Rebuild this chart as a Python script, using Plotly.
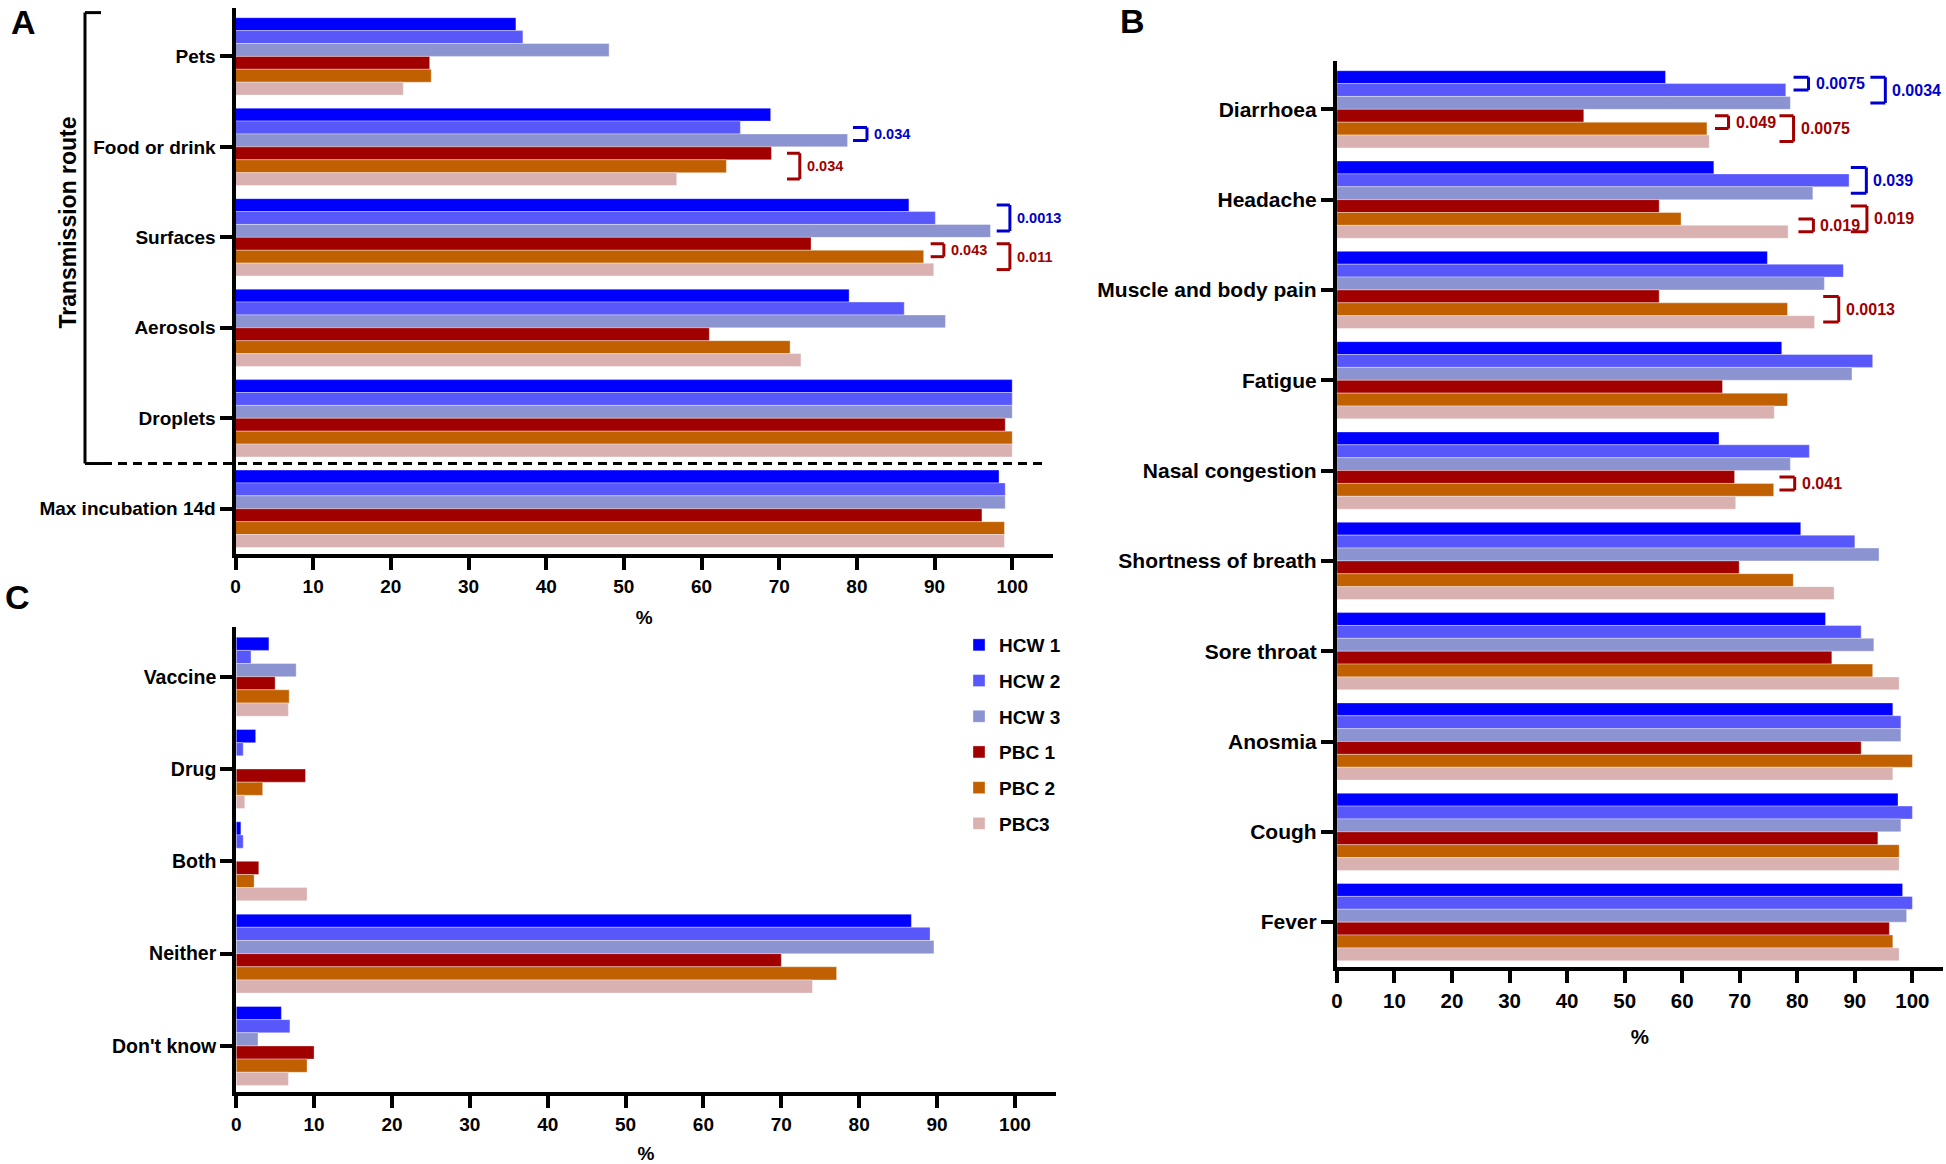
import plotly.graph_objects as go

# ---------------- data ----------------
series = ["HCW 1", "HCW 2", "HCW 3", "PBC 1", "PBC 2", "PBC3"]
colors = ["#0000FF", "#5858FA", "#8B93D1", "#A00000", "#C06000", "#D9B1B1"]

cat_a = ["Pets", "Food or drink", "Surfaces", "Aerosols", "Droplets", "Max incubation 14d"]
hcw1_a = [36.1, 68.9, 86.7, 79.0, 100, 98.3]
hcw2_a = [37.0, 65.0, 90.1, 86.1, 100, 99.1]
hcw3_a = [48.1, 78.8, 97.2, 91.4, 100, 99.1]
pbc1_a = [25.0, 69.0, 74.1, 61.0, 99.1, 96.1]
pbc2_a = [25.2, 63.2, 88.6, 71.4, 100, 99.0]
pbc3_a = [21.6, 56.8, 89.9, 72.8, 100, 99.0]

cat_b = ["Diarrhoea", "Headache", "Muscle and body pain", "Fatigue", "Nasal congestion",
         "Shortness of breath", "Sore throat", "Anosmia", "Cough", "Fever"]
hcw1_b = [57.1, 65.5, 74.8, 77.3, 66.4, 80.6, 84.9, 96.6, 97.5, 98.3]
hcw2_b = [78.0, 89.0, 88.0, 93.1, 82.1, 90.0, 91.1, 98.0, 100, 100]
hcw3_b = [78.8, 82.7, 84.7, 89.5, 78.8, 94.2, 93.3, 98.0, 98.0, 99.0]
pbc1_b = [42.9, 56.0, 56.0, 67.0, 69.1, 69.9, 86.0, 91.1, 94.0, 96.0]
pbc2_b = [64.3, 59.8, 78.3, 78.3, 75.9, 79.3, 93.1, 100, 97.7, 96.6]
pbc3_b = [64.7, 78.4, 83.0, 76.0, 69.3, 86.4, 97.7, 96.6, 97.7, 97.7]

cat_c = ["Vaccine", "Drug", "Both", "Neither", "Don't know"]
hcw1_c = [4.2, 2.5, 0.6, 86.7, 5.8]
hcw2_c = [1.9, 0.9, 0.9, 89.1, 6.9]
hcw3_c = [7.7, 0, 0, 89.6, 2.8]
pbc1_c = [5.0, 8.9, 2.9, 70.0, 10.0]
pbc2_c = [6.8, 3.4, 2.3, 77.1, 9.1]
pbc3_c = [6.7, 1.1, 9.1, 74.0, 6.7]

x_ticks = [0, 10, 20, 30, 40, 50, 60, 70, 80, 90, 100]

# p-value brackets: (panel, category index, first bar, last bar, x left, x right, label, colour)
BLUE = "#0000CC"
RED = "#A00000"
brackets = [
    ("a", 1, 1, 2, 79.5, 81.3, "0.034", BLUE),
    ("a", 1, 3, 5, 71.0, 72.65, "0.034", RED),
    ("a", 2, 0, 2, 98.0, 99.7, "0.0013", BLUE),
    ("a", 2, 3, 4, 89.5, 91.2, "0.043", RED),
    ("a", 2, 3, 5, 98.0, 99.7, "0.011", RED),
    ("b", 0, 0, 1, 79.35, 81.95, "0.0075", BLUE),
    ("b", 0, 0, 2, 92.7, 95.3, "0.0034", BLUE),
    ("b", 0, 3, 4, 65.7, 68.05, "0.049", RED),
    ("b", 0, 3, 5, 76.9, 79.35, "0.0075", RED),
    ("b", 1, 0, 2, 89.3, 92.0, "0.039", BLUE),
    ("b", 1, 4, 5, 80.2, 82.8, "0.019", RED),
    ("b", 1, 3, 5, 89.3, 92.1, "0.019", RED),
    ("b", 2, 3, 5, 84.5, 87.2, "0.0013", RED),
    ("b", 4, 3, 4, 76.9, 79.55, "0.041", RED),
]

# ---------------- figure ----------------
W, H = 1946, 1164
BARGAP = 0.145
FONT = "Liberation Sans, Arial, sans-serif"

def px_x(p):
    return p / W

def px_y(p):
    return 1 - p / H

fig = go.Figure()

panels = {
    "a": dict(cats=cat_a, vals=[hcw1_a, hcw2_a, hcw3_a, pbc1_a, pbc2_a, pbc3_a], xa="x", ya="y",
              font=19, xfont=19, pfont=14.5, standoff=16),
    "b": dict(cats=cat_b, vals=[hcw1_b, hcw2_b, hcw3_b, pbc1_b, pbc2_b, pbc3_b], xa="x2", ya="y2",
              font=21, xfont=20.5, pfont=16, standoff=20),
    "c": dict(cats=cat_c, vals=[hcw1_c, hcw2_c, hcw3_c, pbc1_c, pbc2_c, pbc3_c], xa="x3", ya="y3",
              font=19.5, xfont=19, pfont=15, standoff=14),
}

for key, p in panels.items():
    for i, name in enumerate(series):
        fig.add_trace(go.Bar(
            x=p["vals"][i], y=p["cats"], orientation="h", name=name,
            marker=dict(color=colors[i], line=dict(color="rgba(255,255,255,0.35)", width=1)),
            xaxis=p["xa"], yaxis=p["ya"],
            legendgroup=name, showlegend=(key == "c"),
        ))

def bold(size):
    return dict(family=FONT, size=size, color="black", weight="bold")

axis_common = dict(
    showline=True, linewidth=4, linecolor="black", mirror=False,
    ticks="outside", ticklen=12, tickwidth=4, tickcolor="black",
    showgrid=False, zeroline=False, automargin=False,
)

def xaxis(dom, anchor, p):
    return dict(axis_common, domain=dom, anchor=anchor, range=[0, 105.25],
                tickvals=x_ticks, ticktext=[str(v) for v in x_ticks],
                tickfont=bold(p["xfont"]),
                title=dict(text="%", font=bold(p["xfont"]), standoff=p["standoff"]))

def yaxis(dom, anchor, p):
    n = len(p["cats"])
    return dict(axis_common, domain=dom, anchor=anchor, type="category",
                tickfont=bold(p["font"]), range=[n - 0.5, -0.535])

fig.update_layout(
    width=W, height=H, autosize=False,
    margin=dict(l=0, r=0, t=0, b=0, autoexpand=False),
    paper_bgcolor="white", plot_bgcolor="white",
    barmode="group", bargap=BARGAP, bargroupgap=0,
    font=dict(family=FONT, color="black"),
    xaxis=xaxis([px_x(235.5), px_x(1053)], "y", panels["a"]),
    yaxis=yaxis([px_y(554), px_y(8)], "x", panels["a"]),
    xaxis2=xaxis([px_x(1336.9), px_x(1942.6)], "y2", panels["b"]),
    yaxis2=yaxis([px_y(967.3), px_y(61)], "x2", panels["b"]),
    xaxis3=xaxis([px_x(236.2), px_x(1055.8)], "y3", panels["c"]),
    yaxis3=yaxis([px_y(1092.1), px_y(627.3)], "x3", panels["c"]),
    legend=dict(x=px_x(959), xanchor="left", y=px_y(626), yanchor="top",
                font=bold(19), tracegroupgap=8, bgcolor="rgba(0,0,0,0)",
                traceorder="grouped"),
    showlegend=True,
)

# bracket shapes and p-value labels
bar_w = (1 - BARGAP) / 6
shapes = []
annotations = []
for panel, ci, b0, b1, xl, xr, label, col in brackets:
    xa = panels[panel]["xa"]
    ya = panels[panel]["ya"]
    y0 = ci + (b0 - 2.5) * bar_w
    y1 = ci + (b1 - 2.5) * bar_w
    line = dict(color=col, width=3)
    shapes.append(dict(type="line", xref=xa, yref=ya, x0=xr, x1=xr, y0=y0, y1=y1, line=line))
    shapes.append(dict(type="line", xref=xa, yref=ya, x0=xl, x1=xr, y0=y0, y1=y0, line=line))
    shapes.append(dict(type="line", xref=xa, yref=ya, x0=xl, x1=xr, y0=y1, y1=y1, line=line))
    annotations.append(dict(x=xr, y=(y0 + y1) / 2, xref=xa, yref=ya, text=label,
                            showarrow=False, xanchor="left", yanchor="middle", xshift=5,
                            font=dict(family=FONT, size=panels[panel]["pfont"], color=col,
                                      weight="bold")))

# "Transmission route" bracket and dashed separator (panel A)
blk = dict(color="black", width=3)
shapes += [
    dict(type="line", xref="paper", yref="y", x0=px_x(85), x1=px_x(85), y0=-0.484, y1=4.5, line=blk),
    dict(type="line", xref="paper", yref="y", x0=px_x(85), x1=px_x(101), y0=-0.484, y1=-0.484, line=blk),
    dict(type="line", xref="paper", yref="y", x0=px_x(85), x1=px_x(103), y0=4.5, y1=4.5, line=blk),
    dict(type="line", xref="paper", yref="y", x0=px_x(103), x1=px_x(1046), y0=4.5, y1=4.5,
         line=dict(color="black", width=3, dash="9px,6px")),
]
annotations.append(dict(x=px_x(67.6), y=px_y(223), xref="paper", yref="paper",
                        text="Transmission route", textangle=-90, showarrow=False,
                        xanchor="center", yanchor="middle", font=bold(23)))

for letter, cx, cy in [("A", 23, 21.5), ("B", 1132, 21), ("C", 17, 597)]:
    annotations.append(dict(x=px_x(cx), y=px_y(cy), xref="paper", yref="paper", text=letter,
                            showarrow=False, xanchor="center", yanchor="middle", font=bold(34)))

fig.update_layout(shapes=shapes, annotations=annotations)

fig.write_html("out.html", config={"displayModeBar": False},
               post_script="document.body.style.margin='0px';document.body.style.padding='0px';")
